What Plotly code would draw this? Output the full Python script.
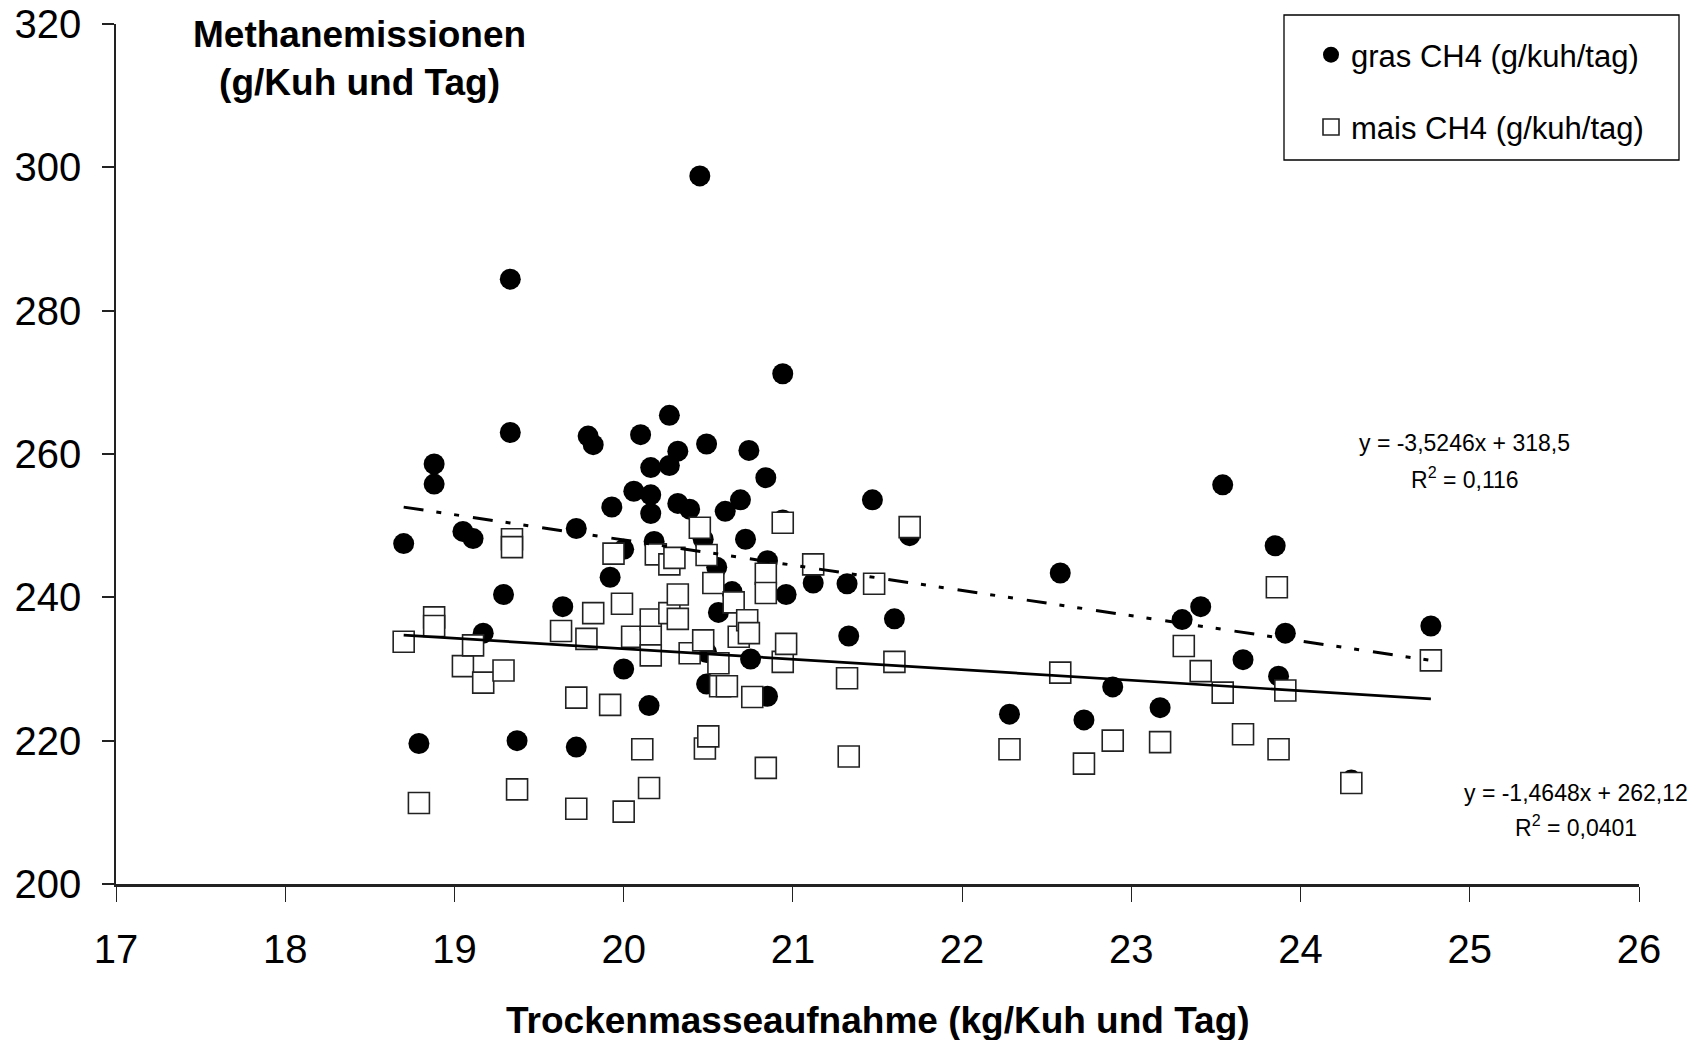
import plotly.graph_objects as go

# ---- data ----
gras_x = [18.70, 18.79, 18.88, 18.88, 19.05, 19.11, 19.17, 19.29, 19.33, 19.33, 19.37, 19.64,
          19.72, 19.72, 19.79, 19.82, 19.93, 19.92, 20.00, 20.00, 20.06, 20.10, 20.15, 20.16,
          20.16, 20.16, 20.18, 20.27, 20.27, 20.32, 20.32, 20.39, 20.45, 20.47, 20.49, 20.49,
          20.49, 20.55, 20.56, 20.60, 20.64, 20.69, 20.72, 20.74, 20.75, 20.84, 20.85, 20.85,
          20.94, 20.94, 20.96, 21.12, 21.32, 21.33, 21.47, 21.60, 21.69, 22.28, 22.58, 22.72,
          22.89, 23.17, 23.30, 23.41, 23.54, 23.66, 23.85, 23.87, 23.91, 24.30, 24.77]
gras_y = [247.5, 219.6, 258.6, 255.8, 249.2, 248.2, 235.0, 240.4, 284.4, 263.0, 220.0, 238.7,
          249.6, 219.1, 262.5, 261.3, 252.6, 242.8, 246.7, 230.0, 254.8, 262.7, 224.9, 258.1,
          254.3, 251.7, 247.8, 265.4, 258.4, 260.4, 253.1, 252.3, 298.8, 248.1, 261.4, 232.3,
          227.9, 244.2, 237.9, 252.0, 240.8, 253.6, 248.1, 260.5, 231.4, 256.7, 245.1, 226.2,
          271.2, 250.8, 240.4, 242.0, 241.9, 234.6, 253.6, 237.0, 248.6, 223.7, 243.4, 222.9,
          227.5, 224.6, 236.9, 238.7, 255.7, 231.3, 247.2, 229.0, 235.0, 214.5, 236.0]

mais_x = [18.70, 18.79, 18.88, 18.88, 19.05, 19.11, 19.17, 19.29, 19.34, 19.34, 19.37, 19.63,
          19.72, 19.72, 19.78, 19.82, 19.92, 19.94, 19.99, 20.00, 20.05, 20.11, 20.15, 20.16,
          20.16, 20.16, 20.19, 20.27, 20.27, 20.30, 20.32, 20.32, 20.39, 20.45, 20.47, 20.48,
          20.49, 20.50, 20.53, 20.56, 20.57, 20.61, 20.65, 20.68, 20.73, 20.74, 20.76, 20.84,
          20.84, 20.84, 20.94, 20.94, 20.96, 21.12, 21.32, 21.33, 21.48, 21.60, 21.69, 22.28,
          22.58, 22.72, 22.89, 23.17, 23.31, 23.41, 23.54, 23.66, 23.86, 23.87, 23.91, 24.30,
          24.77]
mais_y = [233.8, 211.3, 237.2, 236.0, 230.4, 233.3, 228.1, 229.8, 248.1, 247.0, 213.2, 235.3,
          226.0, 210.5, 234.2, 237.8, 225.0, 246.1, 239.1, 210.1, 234.5, 218.8, 213.4, 236.9,
          234.5, 231.9, 246.0, 237.8, 244.6, 245.5, 240.4, 237.0, 232.2, 249.7, 234.0, 218.9,
          245.9, 220.6, 242.0, 230.8, 227.6, 227.6, 239.3, 234.5, 236.8, 235.0, 226.1, 243.3,
          240.6, 216.2, 250.4, 231.0, 233.5, 244.6, 228.7, 217.8, 241.9, 231.0, 249.8, 218.8,
          229.5, 216.8, 220.0, 219.8, 233.2, 229.7, 226.7, 220.9, 241.4, 218.8, 227.0, 214.1,
          231.2]

# linear trend lines as printed in the chart
gras_slope, gras_intercept = -3.5246, 318.5
mais_slope, mais_intercept = -1.4648, 262.12
gras_r2 = "0,116"
mais_r2 = "0,0401"

x_ticks = [17, 18, 19, 20, 21, 22, 23, 24, 25, 26]
y_ticks = [200, 220, 240, 260, 280, 300, 320]

gras_name = "gras CH4 (g/kuh/tag)"
mais_name = "mais CH4 (g/kuh/tag)"

# ---- figure ----
FONT = "Liberation Sans, Arial, sans-serif"
# the page body has an 8px margin; the figure starts 8px in from the window edge
FIG_W, FIG_H = 1698, 1032
PLOT_L, PLOT_R, PLOT_T, PLOT_B = 108, 1631, 16, 876
PW, PH = PLOT_R - PLOT_L, PLOT_B - PLOT_T


def px(x):
    return (x - PLOT_L) / PW


def py(y):
    return (PLOT_B - y) / PH


def trend(xs, m, b):
    x0, x1 = min(xs), max(xs)
    return [x0, x1], [m * x0 + b, m * x1 + b]


def fmt(v):
    return f"{v}".replace(".", ",")


fig = go.Figure()
fig.add_trace(go.Scatter(
    x=gras_x, y=gras_y, mode="markers", name=gras_name,
    legendgroup="g", legendrank=1,
    marker=dict(symbol="circle", size=21, color="black", line=dict(width=0)),
))
fig.add_trace(go.Scatter(
    x=mais_x, y=mais_y, mode="markers", name=mais_name,
    legendgroup="m", legendrank=2,
    marker=dict(symbol="square", size=21, color="white", line=dict(width=1.6, color="#222")),
))
tx, ty = trend(gras_x, gras_slope, gras_intercept)
fig.add_trace(go.Scatter(x=tx, y=ty, mode="lines", showlegend=False, hoverinfo="skip",
                         line=dict(color="black", width=3, dash="20px,13px,5px,13px,5px,14px")))
tx, ty = trend(mais_x, mais_slope, mais_intercept)
fig.add_trace(go.Scatter(x=tx, y=ty, mode="lines", showlegend=False, hoverinfo="skip",
                         line=dict(color="black", width=2.7)))

eq_font = dict(family=FONT, size=23, color="black")
annotations = [
    dict(x=0.5, y=py(1012), xref="paper", yref="paper", xanchor="center", yanchor="middle",
         text="<b>Trockenmasseaufnahme (kg/Kuh und Tag)</b>", showarrow=False,
         font=dict(family=FONT, size=37, color="black")),
    dict(x=px(351), y=py(50), xref="paper", yref="paper", xanchor="center", yanchor="middle",
         text="<b>Methanemissionen<br>(g/Kuh und Tag)</b>", showarrow=False,
         font=dict(family=FONT, size=37, color="black")),
    dict(x=24.97, y=261.5, xanchor="center", yanchor="middle", showarrow=False,
         text=f"y = {fmt(gras_slope)}x + {fmt(gras_intercept)}", font=eq_font),
    dict(x=24.97, y=256.6, xanchor="center", yanchor="middle", showarrow=False,
         text=f"R<sup>2</sup> = {gras_r2}", font=eq_font),
    dict(x=25.63, y=212.7, xanchor="center", yanchor="middle", showarrow=False,
         text=f"y = {fmt(mais_slope)}x + {fmt(mais_intercept)}", font=eq_font),
    dict(x=25.63, y=208.1, xanchor="center", yanchor="middle", showarrow=False,
         text=f"R<sup>2</sup> = {mais_r2}", font=eq_font),
]

fig.update_layout(
    width=FIG_W, height=FIG_H,
    margin=dict(l=PLOT_L, r=FIG_W - PLOT_R, t=PLOT_T, b=FIG_H - PLOT_B, autoexpand=False),
    paper_bgcolor="white", plot_bgcolor="white",
    font=dict(family=FONT, color="black"),
    showlegend=True,
    legend=dict(
        x=px(1303), y=py(20), xanchor="left", yanchor="top",
        bgcolor="rgba(0,0,0,0)", borderwidth=0,
        font=dict(family=FONT, size=31, color="black"),
        traceorder="grouped", tracegroupgap=29,
    ),
    annotations=annotations,
    shapes=[dict(type="rect", xref="paper", yref="paper",
                 x0=px(1276), x1=px(1671), y0=py(152), y1=py(7),
                 line=dict(color="black", width=1.3), fillcolor="rgba(0,0,0,0)")],
    xaxis=dict(
        range=[17, 26], tickvals=x_ticks, ticktext=[str(v) for v in x_ticks],
        automargin=False, ticklabeloverflow="allow",
        showgrid=False, zeroline=False, showline=True, linecolor="#222", linewidth=2.5,
        ticks="outside", ticklen=15, tickwidth=1, tickcolor="#222",
        tickfont=dict(family=FONT, size=40, color="black"), ticklabelstandoff=13,
    ),
    yaxis=dict(
        range=[200, 320], tickvals=y_ticks, ticktext=[str(v) for v in y_ticks],
        automargin=False, ticklabeloverflow="allow",
        showgrid=False, zeroline=False, showline=True, linecolor="#222", linewidth=1.5,
        ticks="outside", ticklen=12, tickwidth=1.5, tickcolor="#222",
        tickfont=dict(family=FONT, size=40, color="black"), ticklabelstandoff=13,
    ),
)

fig.write_html("out.html")
